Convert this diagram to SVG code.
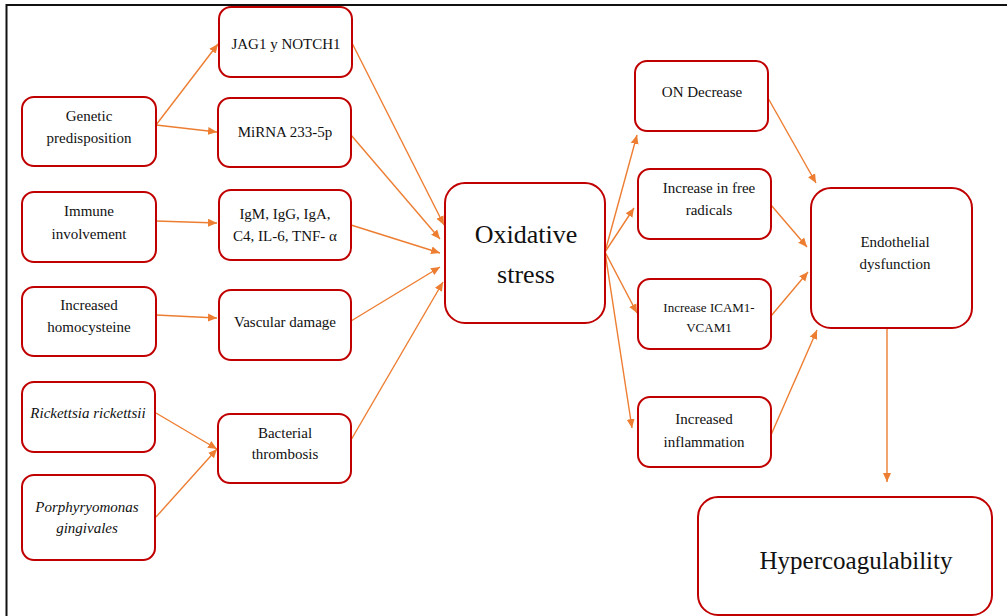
<svg xmlns="http://www.w3.org/2000/svg" width="1007" height="616" viewBox="0 0 1007 616">
<style>
.box{fill:#fff;stroke:#C00000;stroke-width:2}
.t{font-family:"Liberation Serif","Times New Roman",serif;fill:#111;text-anchor:middle;font-size:15px}
.it{font-style:italic}
.c{fill:none;stroke:#ED7D31;stroke-width:1.4;marker-end:url(#ah)}
</style>
<defs>
<marker id="ah" markerUnits="userSpaceOnUse" markerWidth="10" markerHeight="10" viewBox="0 0 10 10" refX="9" refY="5" orient="auto">
<path d="M0,1 L9,5 L0,9 z" fill="#ED7D31"/>
</marker>
</defs>
<rect x="0" y="0" width="1007" height="616" fill="#fff"/>
<rect x="6.5" y="5" width="1010" height="620" fill="none" stroke="#111" stroke-width="2"/>

<g id="connectors">
<line class="c" x1="156" y1="125" x2="218" y2="44"/>
<line class="c" x1="156" y1="125" x2="217" y2="132"/>
<line class="c" x1="156" y1="221" x2="217" y2="223"/>
<line class="c" x1="156" y1="315" x2="217" y2="318"/>
<line class="c" x1="156" y1="413" x2="217" y2="449"/>
<line class="c" x1="156" y1="517" x2="217" y2="449"/>
<line class="c" x1="352" y1="43" x2="444" y2="225"/>
<line class="c" x1="351" y1="135" x2="440" y2="239"/>
<line class="c" x1="351" y1="225" x2="440" y2="253"/>
<line class="c" x1="351" y1="321" x2="440" y2="267"/>
<line class="c" x1="351" y1="440" x2="443" y2="282"/>
<line class="c" x1="605" y1="252" x2="637" y2="135"/>
<line class="c" x1="605" y1="252" x2="634" y2="208"/>
<line class="c" x1="605" y1="252" x2="637" y2="313"/>
<line class="c" x1="605" y1="252" x2="632" y2="428"/>
<line class="c" x1="768" y1="98" x2="816" y2="183"/>
<line class="c" x1="771" y1="205" x2="807" y2="247"/>
<line class="c" x1="771" y1="316" x2="808" y2="272"/>
<line class="c" x1="771" y1="435" x2="817" y2="330"/>
<line class="c" x1="887" y1="328" x2="887" y2="482"/>
</g>

<g id="genetic"><rect class="box" x="22" y="97" width="134" height="69" rx="12"/>
<text class="t" x="89" y="121">Genetic</text><text class="t" x="89" y="143">predisposition</text></g>
<g id="jag1"><rect class="box" x="219" y="7" width="133" height="70" rx="12"/>
<text class="t" x="286" y="49">JAG1 y NOTCH1</text></g>
<g id="mirna"><rect class="box" x="218" y="98" width="133" height="69" rx="12"/>
<text class="t" x="285" y="137">MiRNA 233-5p</text></g>
<g id="immune"><rect class="box" x="22" y="192" width="134" height="70" rx="12"/>
<text class="t" x="89" y="216">Immune</text><text class="t" x="89" y="239">involvement</text></g>
<g id="igm"><rect class="box" x="219" y="190" width="132" height="70" rx="12"/>
<text class="t" x="285" y="219">IgM, IgG, IgA,</text><text class="t" x="285" y="241">C4, IL-6, TNF- α</text></g>
<g id="homocysteine"><rect class="box" x="22" y="287" width="134" height="69" rx="12"/>
<text class="t" x="89" y="310">Increased</text><text class="t" x="89" y="332">homocysteine</text></g>
<g id="vascular"><rect class="box" x="219" y="290" width="132" height="70" rx="12"/>
<text class="t" x="285" y="327">Vascular damage</text></g>
<g id="rickettsia"><rect class="box" x="22" y="382" width="133" height="70" rx="12"/>
<text class="t it" x="88" y="418">Rickettsia rickettsii</text></g>
<g id="porphyromonas"><rect class="box" x="22" y="475" width="133" height="85" rx="12"/>
<text class="t it" x="87" y="512">Porphyryomonas</text><text class="t it" x="87" y="533">gingivales</text></g>
<g id="bacterial"><rect class="box" x="218" y="414" width="133" height="69" rx="12"/>
<text class="t" x="285" y="438">Bacterial</text><text class="t" x="285" y="459">thrombosis</text></g>
<g id="oxidative"><rect class="box" x="445" y="183" width="160" height="140" rx="20"/>
<text class="t" x="526" y="243" style="font-size:26px">Oxidative</text><text class="t" x="526" y="283" style="font-size:26px">stress</text></g>
<g id="ondecrease"><rect class="box" x="635" y="61" width="133" height="70" rx="12"/>
<text class="t" x="702" y="97">ON Decrease</text></g>
<g id="radicals"><rect class="box" x="638" y="169" width="133" height="70" rx="12"/>
<text class="t" x="709" y="193">Increase in free</text><text class="t" x="709" y="215">radicals</text></g>
<g id="icam"><rect class="box" x="638" y="279" width="133" height="70" rx="12"/>
<text class="t" x="709" y="312" style="font-size:13px">Increase ICAM1-</text><text class="t" x="709" y="332" style="font-size:13px">VCAM1</text></g>
<g id="inflammation"><rect class="box" x="638" y="397" width="133" height="70" rx="12"/>
<text class="t" x="704" y="424">Increased</text><text class="t" x="704" y="447">inflammation</text></g>
<g id="endothelial"><rect class="box" x="811" y="188" width="161" height="140" rx="20"/>
<text class="t" x="895" y="247">Endothelial</text><text class="t" x="895" y="269">dysfunction</text></g>
<g id="hypercoagulability"><rect class="box" x="698" y="497" width="294" height="118" rx="20"/>
<text class="t" x="856" y="569" style="font-size:25px">Hypercoagulability</text></g>
</svg>
